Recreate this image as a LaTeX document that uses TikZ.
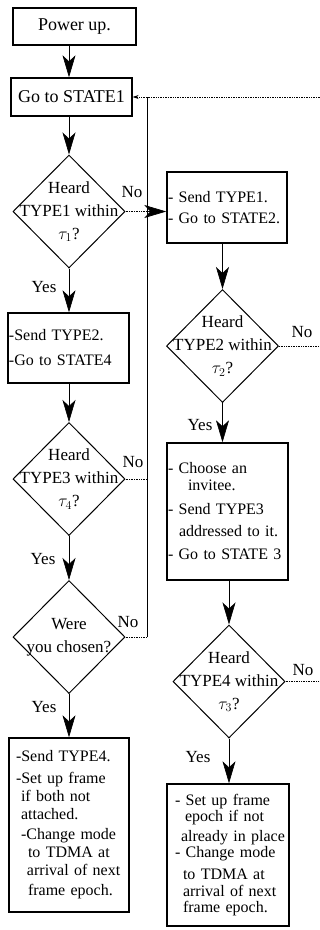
\documentclass[tikz,border=0pt]{standalone}
\usepackage{amsmath}
\usepackage{fontspec}
\setmainfont{Liberation Serif}
\usepackage{tikz}
\usetikzlibrary{arrows.meta,positioning,shapes.geometric,calc}

\begin{document}
\begin{tikzpicture}[x=1pt, y=-1pt,
  start/.style={draw, line width=1.4pt, inner sep=1pt, font=\fontsize{18pt}{20pt}\selectfont},
  box/.style={draw, line width=1.4pt, inner sep=1pt, align=left, font=\fontsize{16pt}{18pt}\selectfont},
  decision/.style={draw, diamond, line width=1pt, inner sep=0pt, minimum width=112pt, minimum height=113pt},
  qtext/.style={align=center, inner sep=0pt, font=\fontsize{17pt}{23pt}\selectfont},
  lbl/.style={inner sep=0pt, font=\fontsize{17pt}{17pt}\selectfont},
  flow/.style={line width=0.6pt, -{Stealth[length=22pt, width=13pt, inset=6pt]}},
  link/.style={line width=0.7pt, densely dotted},
]
  \useasboundingbox (0,0) rectangle (320,930);

  % left column
  \node[start, minimum width=123pt, minimum height=37pt] (pwr) at (74.5,26.5) {Power up.};
  \node[start, minimum width=121pt, minimum height=38pt] (st1) at (71.5,97) {Go to STATE1};
  \node[decision] (q1) at (69,211.5) {};
  \node[qtext] (q1t) at (q1) {Heard\\TYPE1 within\\$\tau_1$?};
  \node[box, text width=119pt, minimum height=70pt] (b4) at (68.5,348) {-Send TYPE2.\\[7pt]-Go to STATE4};
  \node[decision] (q3) at (69,479) {};
  \node[qtext] (q3t) at (q3) {Heard\\TYPE3 within\\$\tau_4$?};
  \node[decision] (q5) at (69,637) {};
  \node[qtext] (q5t) at (q5) {Were\\you chosen?};
  \node[box, text width=118pt, minimum height=174pt] (b5) at (69,825) {%
    \hspace*{6pt}-Send TYPE4.\\[4pt]
    \hspace*{6pt}-Set up frame\\
    \hspace*{11pt}if both not\\
    \hspace*{11pt}attached.\\[2pt]
    \hspace*{11pt}-Change mode\\
    \hspace*{18pt}to TDMA at\\
    \hspace*{17pt}arrival of next\\[2pt]
    \hspace*{18pt}frame epoch.};

  % right column
  \node[box, text width=118pt, minimum height=71pt] (b2) at (227,207.5) {- Send TYPE1.\\[3pt]- Go to~STATE2.};
  \node[decision] (q2) at (222.5,346) {};
  \node[qtext] (q2t) at (q2) {Heard\\TYPE2 within\\$\tau_2$?};
  \node[box, text width=119pt, minimum height=137pt] (b3) at (227.5,511.5) {%
    - Choose an\\[-1pt]
    \hspace*{20pt}invitee.\\[6pt]
    - Send TYPE3\\[4pt]
    \hspace*{11pt}addressed to~it.\\[5pt]
    - Go to STATE~3};
  \node[decision] (q4) at (229,681.5) {};
  \node[qtext] (q4t) at (q4) {Heard\\TYPE4 within\\$\tau_3$?};
  \node[box, text width=120pt, minimum height=142pt] (b6) at (228,855) {%
    \hspace*{7pt}- Set up frame\\[-2pt]
    \hspace*{17pt}epoch if not\\[2pt]
    \hspace*{13pt}already in~place\\[-2pt]
    \hspace*{7pt}- Change mode\\[4pt]
    \hspace*{15pt}to TDMA at\\[-1pt]
    \hspace*{15pt}arrival of next\\[-2pt]
    \hspace*{15pt}frame epoch.};

  % yes branches
  \draw[flow] (pwr.south -| q1.north) -- (st1.north -| q1.north);
  \draw[flow] (st1.south -| q1.north) -- (q1.north);
  \draw[flow] (q1.south) -- (q1.south |- b4.north);
  \draw[flow] (b4.south -| q3.north) -- (q3.north);
  \draw[flow] (q3.south) -- (q5.north);
  \draw[flow] (q5.south) -- (q5.south |- b5.north);
  \draw[flow] (b2.south -| q2.north) -- (q2.north);
  \draw[flow] (q2.south) -- (q2.south |- b3.north);
  \draw[flow] (b3.south -| q4.north) -- (q4.north);
  \draw[flow] (q4.south) -- (q4.south |- b6.north);

  % no branches and the way back
  \coordinate (j1) at (147,97);
  \coordinate (r0) at (320,97);
  \draw[link, -{Stealth[length=22pt, width=13pt, inset=6pt]}] (q1.east) -- (q1.east -| b2.west);
  \draw[link, -{Stealth[length=6pt, width=4pt]}] (r0) -- (st1.east);
  \draw[line width=0.6pt] (q5.east -| j1) -- (j1);
  \draw[link] (q5.east) -- (q5.east -| j1);
  \draw[link] (q3.east) -- (q3.east -| j1);
  \draw[link] (q2.east) -- (q2.east -| r0);
  \draw[link] (q4.east) -- (q4.east -| r0);

  \node[lbl] (no1) at (132,192) {No};
  \node[lbl] (no3) at (133,462) {No};
  \node[lbl] (no5) at (128,622) {No};
  \node[lbl] (no2) at (302,332) {No};
  \node[lbl] (no4) at (303,670) {No};
  \node[lbl] (yes1) at (44,287) {Yes};
  \node[lbl] (yes3) at (43,559) {Yes};
  \node[lbl] (yes5) at (44,707) {Yes};
  \node[lbl] (yes2) at (200,425) {Yes};
  \node[lbl] (yes4) at (198,757) {Yes};
\end{tikzpicture}
\end{document}
